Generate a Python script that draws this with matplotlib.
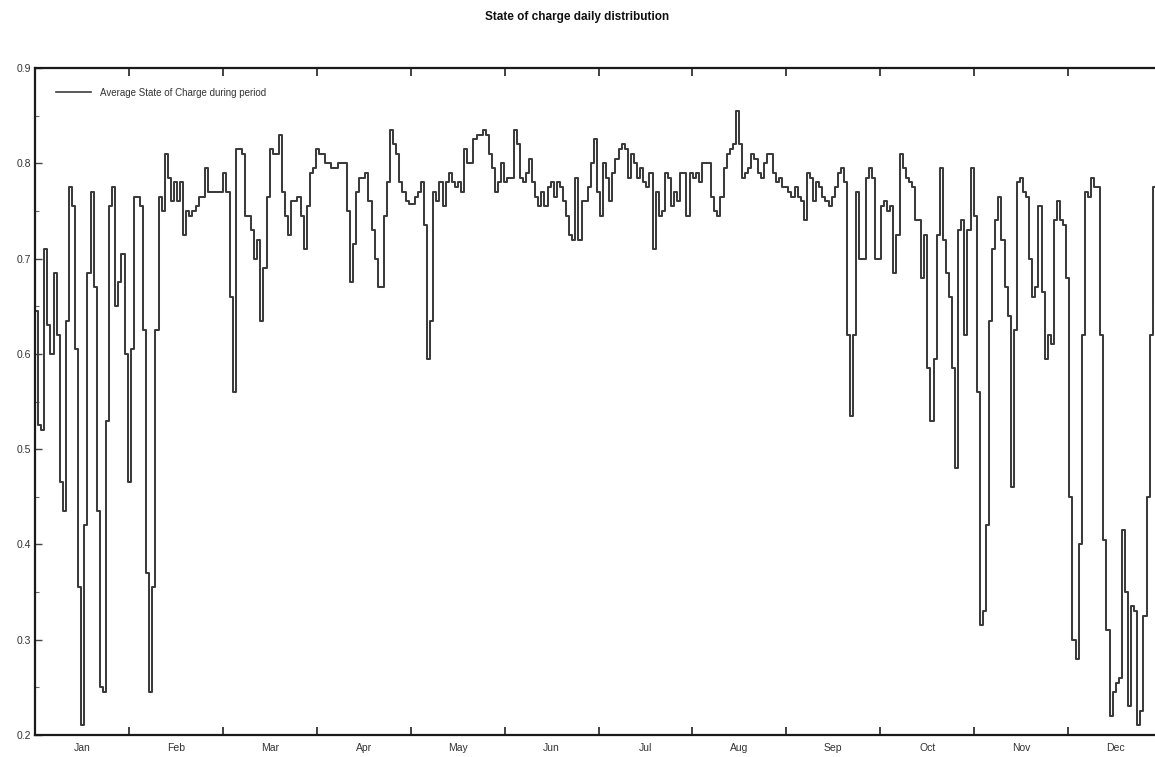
import numpy as np
import matplotlib
matplotlib.use("Agg")
import matplotlib.pyplot as plt
from matplotlib.ticker import FixedLocator, MultipleLocator, NullFormatter

plt.rcParams['font.family'] = ['Liberation Sans', 'DejaVu Sans']

# Daily average state of charge, one list per calendar month
soc_jan = [0.645, 0.525, 0.52, 0.71, 0.63, 0.60, 0.685, 0.62, 0.465, 0.435,
           0.635, 0.775, 0.755, 0.605, 0.355, 0.21, 0.42, 0.685, 0.77, 0.67,
           0.435, 0.25, 0.245, 0.53, 0.755, 0.775, 0.65, 0.675, 0.705, 0.60,
           0.465]
soc_feb = [0.605, 0.765, 0.765, 0.755, 0.625, 0.37, 0.245, 0.355, 0.625, 0.765,
           0.75, 0.81, 0.785, 0.76, 0.78, 0.76, 0.78, 0.725, 0.75, 0.745,
           0.75, 0.755, 0.765, 0.765, 0.795, 0.77, 0.77, 0.77]
soc_mar = [0.77, 0.77, 0.79, 0.77, 0.66, 0.56, 0.815, 0.815, 0.81, 0.745,
           0.745, 0.73, 0.70, 0.72, 0.635, 0.69, 0.765, 0.815, 0.81, 0.81,
           0.83, 0.77, 0.745, 0.725, 0.76, 0.76, 0.765, 0.745, 0.71, 0.755,
           0.79]
soc_apr = [0.795, 0.815, 0.81, 0.81, 0.80, 0.80, 0.795, 0.795, 0.80, 0.80,
           0.80, 0.75, 0.675, 0.715, 0.77, 0.785, 0.785, 0.79, 0.76, 0.73,
           0.70, 0.67, 0.67, 0.745, 0.78, 0.835, 0.82, 0.81, 0.78, 0.77]
soc_may = [0.76, 0.757, 0.757, 0.765, 0.77, 0.78, 0.735, 0.595, 0.635, 0.77,
           0.76, 0.78, 0.755, 0.78, 0.79, 0.78, 0.775, 0.78, 0.77, 0.815,
           0.80, 0.80, 0.825, 0.83, 0.83, 0.835, 0.83, 0.81, 0.795, 0.77,
           0.78]
soc_jun = [0.80, 0.78, 0.785, 0.785, 0.835, 0.82, 0.785, 0.78, 0.79, 0.805,
           0.78, 0.765, 0.755, 0.77, 0.755, 0.775, 0.78, 0.765, 0.78, 0.775,
           0.76, 0.745, 0.725, 0.72, 0.785, 0.72, 0.76, 0.76, 0.775, 0.80]
soc_jul = [0.825, 0.77, 0.745, 0.80, 0.785, 0.76, 0.79, 0.805, 0.815, 0.82,
           0.815, 0.785, 0.81, 0.80, 0.785, 0.795, 0.78, 0.775, 0.79, 0.71,
           0.77, 0.745, 0.75, 0.79, 0.785, 0.755, 0.77, 0.76, 0.79, 0.79,
           0.745]
soc_aug = [0.79, 0.785, 0.79, 0.78, 0.80, 0.80, 0.80, 0.765, 0.75, 0.745,
           0.765, 0.795, 0.81, 0.815, 0.82, 0.855, 0.82, 0.785, 0.79, 0.795,
           0.81, 0.805, 0.79, 0.785, 0.80, 0.81, 0.81, 0.79, 0.78, 0.785,
           0.775]
soc_sep = [0.775, 0.77, 0.765, 0.775, 0.765, 0.76, 0.74, 0.79, 0.785, 0.76,
           0.78, 0.775, 0.765, 0.76, 0.755, 0.765, 0.775, 0.79, 0.795, 0.78,
           0.62, 0.535, 0.62, 0.77, 0.70, 0.70, 0.785, 0.795, 0.785, 0.70]
soc_oct = [0.70, 0.755, 0.76, 0.75, 0.755, 0.685, 0.725, 0.81, 0.795, 0.785,
           0.78, 0.775, 0.74, 0.74, 0.68, 0.725, 0.585, 0.53, 0.595, 0.725,
           0.795, 0.72, 0.685, 0.66, 0.585, 0.48, 0.73, 0.74, 0.62, 0.73,
           0.795]
soc_nov = [0.745, 0.56, 0.315, 0.33, 0.42, 0.635, 0.71, 0.74, 0.765, 0.72,
           0.67, 0.64, 0.46, 0.625, 0.78, 0.785, 0.77, 0.765, 0.70, 0.66,
           0.67, 0.755, 0.665, 0.595, 0.62, 0.61, 0.74, 0.76, 0.74, 0.735]
soc_dec = [0.68, 0.45, 0.30, 0.28, 0.40, 0.62, 0.77, 0.765, 0.785, 0.775,
           0.775, 0.62, 0.405, 0.31, 0.22, 0.245, 0.255, 0.26, 0.415, 0.35,
           0.23, 0.335, 0.33, 0.21, 0.225, 0.325, 0.45, 0.62, 0.775, 0.65,
           0.75]

month_labels = ["Jan", "Feb", "Mar", "Apr", "May", "Jun",
                "Jul", "Aug", "Sep", "Oct", "Nov", "Dec"]
series_label = "Average State of Charge during period"
title_text = "State of charge daily distribution"

soc = np.array(soc_jan + soc_feb + soc_mar + soc_apr + soc_may + soc_jun +
               soc_jul + soc_aug + soc_sep + soc_oct + soc_nov + soc_dec)
n_days = len(soc)
days = np.arange(n_days + 1)
soc_step = np.append(soc, soc[-1])

W, H = 1155, 757
fig = plt.figure(figsize=(W / 100, H / 100), dpi=100)
fig.patch.set_facecolor("white")

x0, x1 = 35, 1162
y0, y1 = 68, 735
ax = fig.add_axes([x0 / W, 1 - y1 / H, (x1 - x0) / W, (y1 - y0) / H])

line_color = "#3c3c3c"
ax.plot(days, soc_step, drawstyle="steps-post", color=line_color, lw=1.45,
        label=series_label)

ax.set_xlim(0, n_days)
ax.set_ylim(0.2, 0.9)

# Month boundaries every twelfth of the year, labels centred between them
bounds = np.arange(0, 13) * n_days / 12
centers = (bounds[:-1] + bounds[1:]) / 2
ax.xaxis.set_major_locator(FixedLocator(bounds))
ax.xaxis.set_major_formatter(NullFormatter())
ax.xaxis.set_minor_locator(FixedLocator(centers))
ax.set_xticklabels(month_labels, minor=True)
ax.tick_params(axis="x", which="major", direction="in", length=6, width=1.2,
               top=True, bottom=True, color="#222222")
ax.tick_params(axis="x", which="minor", length=0, pad=6, labelsize=7.5,
               labelcolor="#333333")

ax.yaxis.set_major_locator(MultipleLocator(0.1))
ax.yaxis.set_minor_locator(MultipleLocator(0.05))
ax.yaxis.set_major_formatter(plt.FuncFormatter(lambda v, p: f"{v:.1f}"))
ax.tick_params(axis="y", which="major", direction="in", length=5, width=1.0,
               labelsize=7.5, labelcolor="#333333", pad=3, color="#444444")
ax.tick_params(axis="y", which="minor", direction="in", length=3, width=0.8,
               color="#666666")

for side in ("left", "bottom", "top", "right"):
    ax.spines[side].set_linewidth(1.6)
    ax.spines[side].set_color("#1a1a1a")

leg = ax.legend(loc="upper left", bbox_to_anchor=(0.0098, 0.985), frameon=False,
                fontsize=7, handlelength=3.6, handletextpad=1.0,
                borderaxespad=0.6)
for h in leg.legend_handles:
    h.set_linewidth(1.2)
for t in leg.get_texts():
    t.set_color("#333333")

fig.text(0.5, 1 - 17 / H, title_text, ha="center", va="center",
         fontsize=8.5, fontweight="bold", color="#111111")

fig.savefig("out.png", dpi=100, facecolor="white")
